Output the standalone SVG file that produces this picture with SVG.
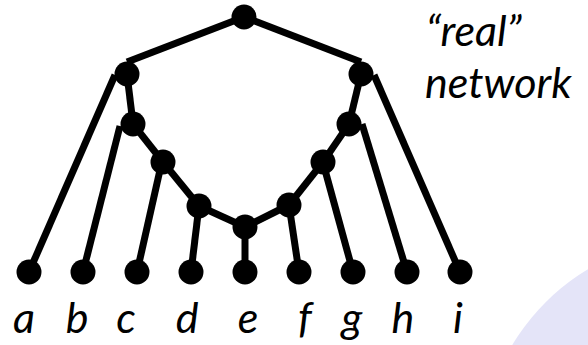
<svg xmlns="http://www.w3.org/2000/svg" width="588" height="345" viewBox="0 0 588 345">
<style>
.edge{stroke:#000;stroke-width:7;fill:none;stroke-linecap:butt}
.node{fill:#000}
.lbl{font-family:Lato,"Open Sans","Liberation Sans",sans-serif;font-style:italic;font-size:43px;fill:#000}
</style>
<rect width="588" height="345" fill="#fff"/>
<circle cx="701" cy="458" r="220" fill="#e4e4f8"/>
<g id="connectors">
<line class="edge" x1="244" y1="17" x2="127" y2="62"/>
<line class="edge" x1="244" y1="17" x2="361" y2="62"/>
<line class="edge" x1="29" y1="272" x2="115" y2="75"/>
<line class="edge" x1="127" y1="74" x2="133" y2="124"/>
<line class="edge" x1="83" y1="272" x2="120" y2="126"/>
<line class="edge" x1="133" y1="124" x2="163" y2="162"/>
<line class="edge" x1="137" y1="272" x2="160" y2="170"/>
<line class="edge" x1="163" y1="162" x2="199" y2="206"/>
<line class="edge" x1="191" y1="272" x2="199" y2="206"/>
<line class="edge" x1="199" y1="206" x2="245" y2="227"/>
<line class="edge" x1="245" y1="272" x2="245" y2="227"/>
<line class="edge" x1="245" y1="227" x2="289" y2="205"/>
<line class="edge" x1="299" y1="272" x2="289" y2="205"/>
<line class="edge" x1="289" y1="205" x2="323" y2="162"/>
<line class="edge" x1="353" y1="272" x2="325" y2="170"/>
<line class="edge" x1="323" y1="162" x2="349" y2="124"/>
<line class="edge" x1="407" y1="272" x2="362" y2="124"/>
<line class="edge" x1="349" y1="124" x2="361" y2="74"/>
<line class="edge" x1="460" y1="272" x2="374" y2="75"/>
</g>
<g id="root"><circle class="node" cx="244" cy="17" r="12.5"/></g>
<g id="L1"><circle class="node" cx="127" cy="74" r="12.5"/></g>
<g id="L2"><circle class="node" cx="133" cy="124" r="12.5"/></g>
<g id="L3"><circle class="node" cx="163" cy="162" r="12.5"/></g>
<g id="L4"><circle class="node" cx="199" cy="206" r="12.5"/></g>
<g id="E"><circle class="node" cx="245" cy="227" r="12.5"/></g>
<g id="R4"><circle class="node" cx="289" cy="205" r="12.5"/></g>
<g id="R3"><circle class="node" cx="323" cy="162" r="12.5"/></g>
<g id="R2"><circle class="node" cx="349" cy="124" r="12.5"/></g>
<g id="R1"><circle class="node" cx="361" cy="74" r="12.5"/></g>
<g id="a"><circle class="node" cx="29" cy="272" r="12.5"/><text class="lbl" x="24" y="333" text-anchor="middle">a</text></g>
<g id="b"><circle class="node" cx="83" cy="272" r="12.5"/><text class="lbl" x="77" y="333" text-anchor="middle">b</text></g>
<g id="c"><circle class="node" cx="137" cy="272" r="12.5"/><text class="lbl" x="126" y="333" text-anchor="middle">c</text></g>
<g id="d"><circle class="node" cx="191" cy="272" r="12.5"/><text class="lbl" x="187" y="333" text-anchor="middle">d</text></g>
<g id="e"><circle class="node" cx="245" cy="272" r="12.5"/><text class="lbl" x="248" y="333" text-anchor="middle">e</text></g>
<g id="f"><circle class="node" cx="299" cy="272" r="12.5"/><text class="lbl" x="305" y="333" text-anchor="middle">f</text></g>
<g id="g"><circle class="node" cx="353" cy="272" r="12.5"/><text class="lbl" x="352" y="333" text-anchor="middle">g</text></g>
<g id="h"><circle class="node" cx="407" cy="272" r="12.5"/><text class="lbl" x="403" y="333" text-anchor="middle">h</text></g>
<g id="i"><circle class="node" cx="460" cy="272" r="12.5"/><text class="lbl" x="458" y="333" text-anchor="middle">i</text></g>
<g id="title">
<text class="lbl" x="426" y="46">“real”</text>
<text class="lbl" x="425" y="98">network</text>
</g>
</svg>
